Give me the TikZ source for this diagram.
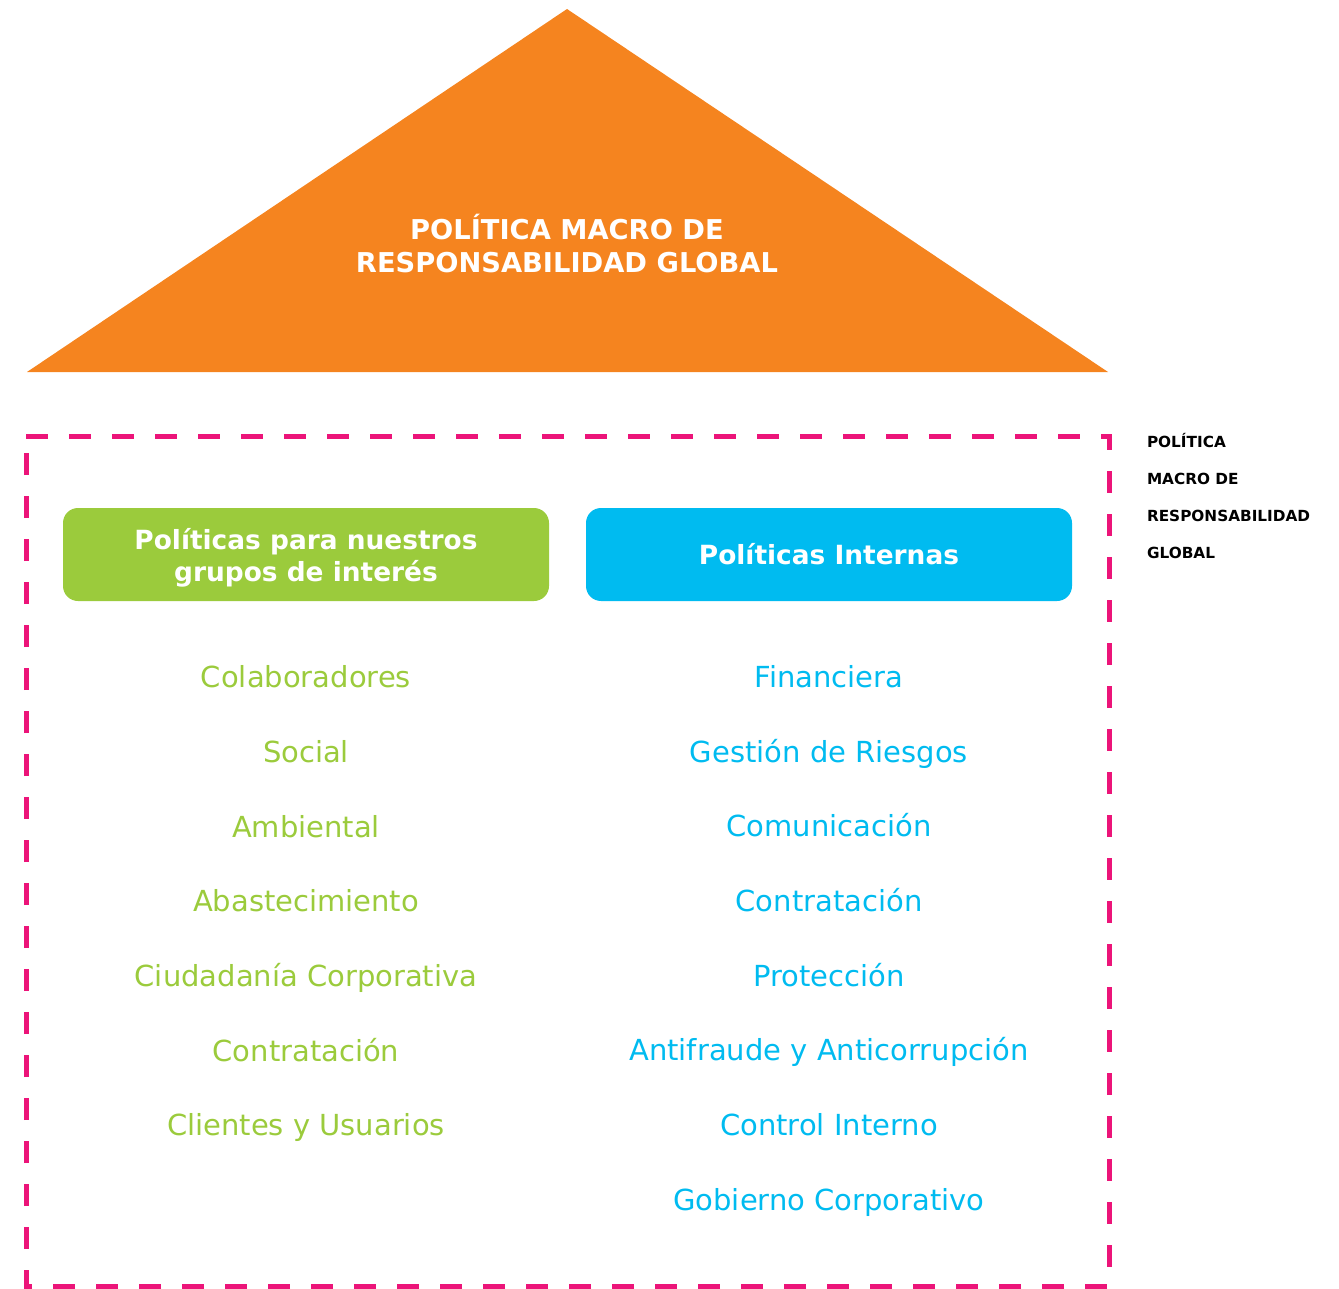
\documentclass[tikz,border=0pt]{standalone}
\usepackage{fontspec}
\setmainfont{DejaVu Sans}
\begin{document}
\begin{tikzpicture}[x=1pt,y=-1pt,
  every node/.style={inner sep=0pt, outer sep=0pt},
  greenitem/.style={anchor=base, text=polgreen, font=\fontsize{29}{30}\selectfont},
  blueitem/.style={anchor=base, text=polblue, font=\fontsize{29}{30}\selectfont},
  hdrbox/.style={rounded corners=15pt, minimum width=486pt, minimum height=93pt},
  hdrtxt/.style={anchor=base, text=white, font=\bfseries\fontsize{26.4}{30}\selectfont},
  rooftxt/.style={anchor=base, text=white, font=\bfseries\fontsize{27.3}{33}\selectfont},
  sidetxt/.style={anchor=base west, font=\bfseries\fontsize{15.3}{16}\selectfont}]
\definecolor{polorange}{HTML}{F5841F}
\definecolor{polgreen}{HTML}{9BCB3C}
\definecolor{polblue}{HTML}{00BBF0}
\definecolor{polpink}{HTML}{EC1479}
\useasboundingbox (0,0) rectangle (1339,1289);
% roof
\fill[polorange] (567,9) -- (1108,372) -- (27,372) -- cycle;
\node[rooftxt] (roof1) at (567,240) {POLÍTICA MACRO DE};
\node[rooftxt] (roof2) at (567,273) {RESPONSABILIDAD GLOBAL};
% dashed frame
\draw[polpink, line width=5pt, dash pattern=on 22pt off 21pt] (26,436) -- (1109,436) -- (1109,1286) -- (26,1286) -- cycle;
% headers
\node[hdrbox, fill=polgreen] (hg) at (306,554.5) {};
\node[hdrtxt] (hg1) at (306,549) {Políticas para nuestros};
\node[hdrtxt] (hg2) at (306,581) {grupos de interés};
\node[hdrbox, fill=polblue] (hb) at (829,554.5) {};
\node[hdrtxt] (hb1) at (829,564.5) {Políticas Internas};
% left items
\node[greenitem] (g1) at (306,687) {Colaboradores};
\node[greenitem] (g2) at (306,762) {Social};
\node[greenitem] (g3) at (306,837) {Ambiental};
\node[greenitem] (g4) at (306,911) {Abastecimiento};
\node[greenitem] (g5) at (306,986) {Ciudadanía Corporativa};
\node[greenitem] (g6) at (306,1061) {Contratación};
\node[greenitem] (g7) at (306,1135) {Clientes y Usuarios};
% right items
\node[blueitem] (b1) at (829,687) {Financiera};
\node[blueitem] (b2) at (829,762) {Gestión de Riesgos};
\node[blueitem] (b3) at (829,836) {Comunicación};
\node[blueitem] (b4) at (829,911) {Contratación};
\node[blueitem] (b5) at (829,986) {Protección};
\node[blueitem] (b6) at (829,1060) {Antifraude y Anticorrupción};
\node[blueitem] (b7) at (829,1135) {Control Interno};
\node[blueitem] (b8) at (829,1210) {Gobierno Corporativo};
% side label
\node[sidetxt] (s1) at (1147,447) {POLÍTICA};
\node[sidetxt] (s2) at (1147,484) {MACRO DE};
\node[sidetxt] (s3) at (1147,521) {RESPONSABILIDAD};
\node[sidetxt] (s4) at (1147,558) {GLOBAL};
\end{tikzpicture}
\end{document}
